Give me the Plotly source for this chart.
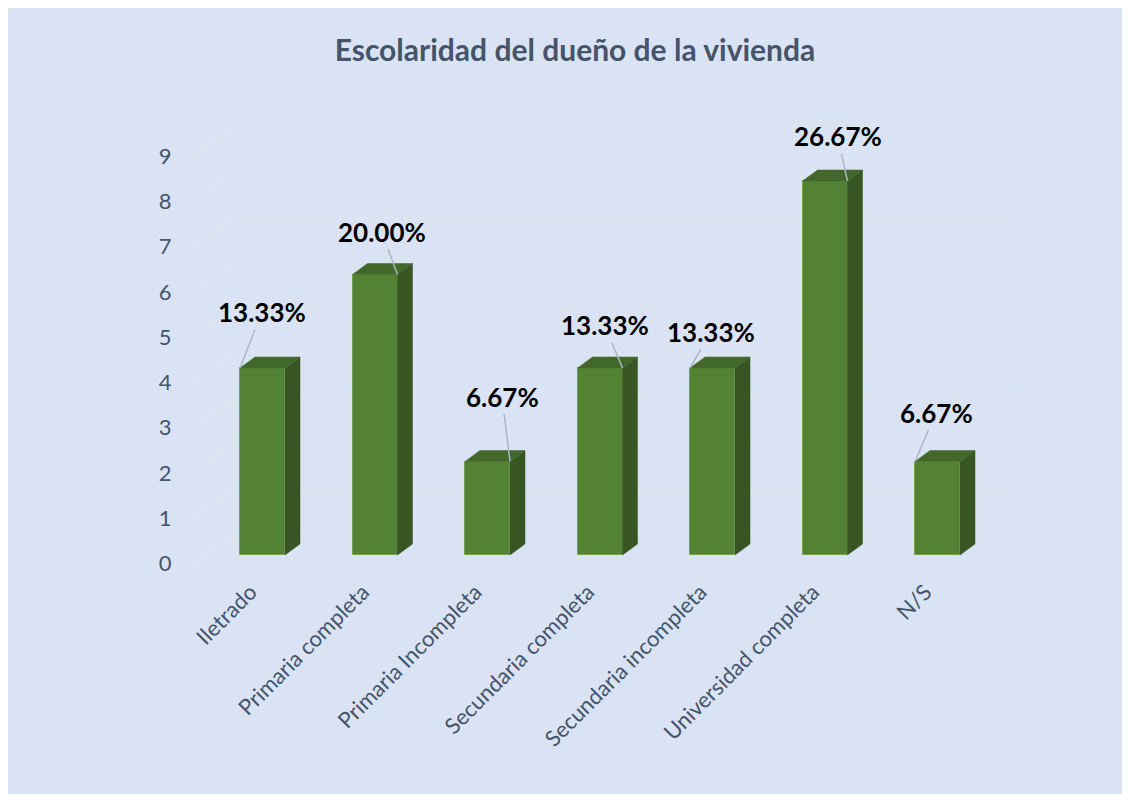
import plotly.graph_objects as go

# ---- data ----
categories = ["Iletrado", "Primaria completa", "Primaria Incompleta",
              "Secundaria completa", "Secundaria incompleta",
              "Universidad completa", "N/S"]
values = [4, 6, 2, 4, 4, 8, 2]
y_ticks = [0, 1, 2, 3, 4, 5, 6, 7, 8, 9]
title_text = "Escolaridad del dueño de la vivienda"

# ---- style / layout constants (page pixels; page has an 8px body margin) ----
W, H = 1130, 794
OFF = 8
L_PX, R_PX, T_PX, B_PX = 193, 1030, 100, 574
X_PX_PER_UNIT = 112.5
X0_PX = 262.5                        # pixel of first category centre
Y1_ZERO_PX, Y1_PX_PER_UNIT = 555, 46.75   # bar (front) plane
Y2_ZERO_PX, Y2_PX_PER_UNIT = 563.5, 45.25 # gridline / tick plane

BG = "#dae3f3"
FRONT = "#548235"
SIDE = "#375623"
TOP = "#43682b"
EDGE = "#74a052"
GRID = "#e2e6ec"
TXT = "#44546a"
LEADER = "#aab6c6"
FONT = "Lato"

HALF_W = 0.2                         # half bar width (category units)
BAR_DX = 15 / X_PX_PER_UNIT          # bar depth offset in x units
BAR_DY = 11 / Y1_PX_PER_UNIT         # bar depth offset in y units
GRID_DX = 40 / X_PX_PER_UNIT
GRID_DY = 29 / Y2_PX_PER_UNIT

x_min = (L_PX - X0_PX) / X_PX_PER_UNIT
x_max = (R_PX - X0_PX) / X_PX_PER_UNIT
y1_rng = [-(B_PX - Y1_ZERO_PX) / Y1_PX_PER_UNIT, (Y1_ZERO_PX - T_PX) / Y1_PX_PER_UNIT]
y2_rng = [-(B_PX - Y2_ZERO_PX) / Y2_PX_PER_UNIT, (Y2_ZERO_PX - T_PX) / Y2_PX_PER_UNIT]
floor_front_right = (983 - X0_PX) / X_PX_PER_UNIT
back_right = (1022 - X0_PX) / X_PX_PER_UNIT

# label placement: (corner side, pixel dx, pixel dy) per bar
label_place = [(-1, 22, -56), (1, -16, -43), (1, -8, -65), (1, -18, -43),
               (-1, 21, -36), (1, -10, -45), (-1, 21, -49)]

x_idx = list(range(len(categories)))
total = sum(values)

fig = go.Figure()

# side and top faces
for i, v in zip(x_idx, values):
    xr = i + HALF_W
    xl = i - HALF_W
    fig.add_trace(go.Scatter(
        x=[xr, xr + BAR_DX, xr + BAR_DX, xr, xr],
        y=[0, BAR_DY, v + BAR_DY, v, 0],
        fill="toself", fillcolor=SIDE, mode="lines",
        line=dict(color=SIDE, width=0.5), hoverinfo="skip", showlegend=False))
    fig.add_trace(go.Scatter(
        x=[xl, xl + BAR_DX, xr + BAR_DX, xr, xl],
        y=[v, v + BAR_DY, v + BAR_DY, v, v],
        fill="toself", fillcolor=TOP, mode="lines",
        line=dict(color=TOP, width=0.5), hoverinfo="skip", showlegend=False))

# front faces
fig.add_trace(go.Bar(
    x=x_idx, y=values, width=2 * HALF_W,
    marker=dict(color=FRONT, line=dict(color=EDGE, width=1)),
    showlegend=False, hoverinfo="x+y"))

# invisible trace to hold tick axis
fig.add_trace(go.Scatter(x=[x_min] * len(y_ticks), y=y_ticks, yaxis="y2",
                         mode="markers", marker=dict(opacity=0),
                         hoverinfo="skip", showlegend=False))

shapes = []
for k in y_ticks:
    path = (f"M {x_min},{k} L {x_min + GRID_DX},{k + GRID_DY} "
            f"L {back_right},{k + GRID_DY}")
    shapes.append(dict(type="path", xref="x", yref="y2", path=path,
                       line=dict(color=GRID, width=1.2), layer="below"))
shapes.append(dict(type="line", xref="x", yref="y2", x0=x_min, y0=0,
                   x1=floor_front_right, y1=0,
                   line=dict(color=GRID, width=1.2), layer="below"))

annotations = []
for i, v, (side, dx, dy) in zip(x_idx, values, label_place):
    annotations.append(dict(
        x=i + side * HALF_W, y=v, xref="x", yref="y",
        text=f"{v / total * 100:.2f}%", showarrow=True, arrowhead=0,
        arrowwidth=1.5, arrowcolor=LEADER, ax=dx, ay=dy, standoff=0,
        font=dict(family=FONT, size=26, color="black", weight="bold")))

fig.update_layout(
    width=W, height=H,
    margin=dict(l=L_PX - OFF, r=W - (R_PX - OFF), t=T_PX - OFF,
                b=H - (B_PX - OFF), pad=0),
    paper_bgcolor=BG, plot_bgcolor="rgba(0,0,0,0)",
    title=dict(text=title_text, x=(575 - OFF) / W, xref="container",
               xanchor="center", y=1 - (50 - OFF) / H, yref="container",
               yanchor="middle",
               font=dict(family=FONT, size=30, color=TXT, weight="bold")),
    xaxis=dict(range=[x_min, x_max], tickvals=x_idx, ticktext=categories,
               tickangle=-45, showgrid=False, zeroline=False, showline=False,
               ticks="", ticklabelshift=-12,
               tickfont=dict(family=FONT, size=22, color=TXT)),
    yaxis=dict(range=y1_rng, showgrid=False, zeroline=False, showline=False,
               showticklabels=False, ticks=""),
    yaxis2=dict(range=y2_rng, overlaying="y", side="left", anchor="x",
                tickvals=y_ticks, showgrid=False, zeroline=False, showline=False,
                ticks="outside", ticklen=16, tickcolor="rgba(0,0,0,0)",
                tickfont=dict(family=FONT, size=22, color=TXT)),
    shapes=shapes, annotations=annotations,
    bargap=0,
)

fig.write_html("out.html")
